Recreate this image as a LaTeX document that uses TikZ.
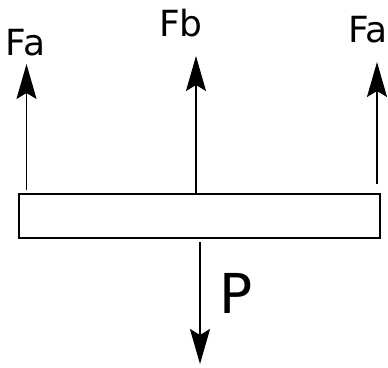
\documentclass[tikz,border=0pt]{standalone}
\usepackage{fontspec}
\setmainfont{DejaVu Sans}
\usetikzlibrary{arrows.meta}
\begin{document}
\begin{tikzpicture}[x=1pt,y=-1pt,
  force/.style={line width=1.6pt,-{Stealth[length=35pt,width=20pt,inset=6pt]}},
  lbl/.style={inner sep=0pt,anchor=base,font=\fontsize{36}{36}\selectfont},
  biglbl/.style={inner sep=0pt,anchor=base,font=\fontsize{55}{55}\selectfont}]
\useasboundingbox (0,0) rectangle (388,367);
\draw[line width=1.8pt] (19,194) rectangle (380,238);
\node[draw=none,inner sep=0pt,minimum width=361pt,minimum height=44pt] (beam) at (199.5,216) {};
\coordinate (la) at (26.5,190);
\coordinate (lt) at (26.5,64);
\coordinate (mt) at (196,56);
\coordinate (ra) at (377,184);
\coordinate (rt) at (377,62);
\coordinate (pt) at (200,364);
\draw[force] (la) -- (lt);
\draw[force] (beam.north -| mt) -- (mt);
\draw[force] (ra) -- (rt);
\draw[force] ([yshift=-4pt]beam.south -| pt) -- (pt);
\node[lbl] (fa1) at (25.5,55) {Fa};
\node[lbl] (fb) at (181,36) {Fb};
\node[lbl] (fa2) at (368,42) {Fa};
\node[biglbl] (p) at (236,313) {P};
\end{tikzpicture}
\end{document}
